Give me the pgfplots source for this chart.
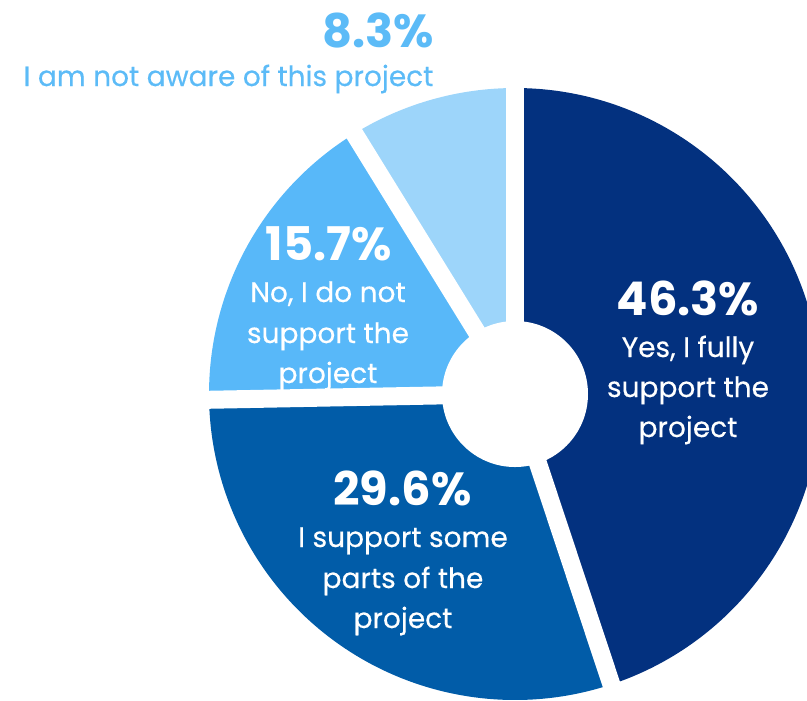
\documentclass[border=0pt]{standalone}
\usepackage{fontspec}
\setmainfont{Poppins}
\newfontfamily\labfam[FakeBold=0.35]{Poppins}
\usepackage{pgfplots}
\usepackage{pgfplotstable}
\pgfplotsset{compat=1.18}
\definecolor{cNavy}{HTML}{03317F}
\definecolor{cMed}{HTML}{015CA8}
\definecolor{cLight}{HTML}{58B8F9}
\definecolor{cPale}{HTML}{9DD5FA}
\definecolor{cText}{HTML}{5CBBF7}

% slice shares (percent of the full circle), clockwise from the top
\pgfplotstableread{
slice share
navy 44.9
medium 29.8
light 16.5
pale 8.8
}\piedata
\pgfplotstablegetelem{0}{share}\of\piedata\let\sA\pgfplotsretval
\pgfplotstablegetelem{1}{share}\of\piedata\let\sB\pgfplotsretval
\pgfplotstablegetelem{2}{share}\of\piedata\let\sC\pgfplotsretval
\pgfplotstablegetelem{3}{share}\of\piedata\let\sD\pgfplotsretval
\pgfmathsetmacro\aA{90}
\pgfmathsetmacro\aB{\aA-3.6*\sA}
\pgfmathsetmacro\aC{\aB-3.6*\sB}
\pgfmathsetmacro\aD{\aC-3.6*\sC}
\pgfmathsetmacro\aE{\aD-3.6*\sD}
\newcommand\numfont{\fontsize{13.2}{16}\selectfont\bfseries}
\newcommand\labfont{\labfam\fontsize{7.97}{11.67}\selectfont}

\begin{document}
\begin{tikzpicture}
\begin{axis}[scale only axis, width=8.07cm, height=7cm,
  xmin=0, xmax=807, ymin=0, ymax=700, hide axis, clip=true]
\fill[cNavy]  (axis cs:515,306) -- ++(\aA:3.06cm) arc[start angle=\aA, end angle=\aB, radius=3.06cm] -- cycle;
\fill[cMed]   (axis cs:515,306) -- ++(\aB:3.06cm) arc[start angle=\aB, end angle=\aC, radius=3.06cm] -- cycle;
\fill[cLight] (axis cs:515,306) -- ++(\aC:3.06cm) arc[start angle=\aC, end angle=\aD, radius=3.06cm] -- cycle;
\fill[cPale]  (axis cs:515,306) -- ++(\aD:3.06cm) arc[start angle=\aD, end angle=\aE, radius=3.06cm] -- cycle;
\draw[white, line width=0.18cm] (axis cs:515,306) -- ++(\aA:3.3cm);
\draw[white, line width=0.18cm] (axis cs:515,306) -- ++(\aB:3.3cm);
\draw[white, line width=0.18cm] (axis cs:515,306) -- ++(\aC:3.3cm);
\draw[white, line width=0.18cm] (axis cs:515,306) -- ++(\aD:3.3cm);
\fill[white] (axis cs:515,306) circle[radius=0.73cm];
% labels
\node[anchor=base, inner sep=0pt, text=cText, font=\numfont] at (axis cs:378,653) {8.3\%};
\node[anchor=base, inner sep=0pt, text=cText, font=\labfont] at (axis cs:228.5,614) {I am not aware of this project};
\node[anchor=base, inner sep=0pt, text=white, font=\numfont] at (axis cs:688,385) {46.3\%};
\node[anchor=base, inner sep=0pt, text=white, font=\labfont] at (axis cs:688,343) {Yes, I fully};
\node[anchor=base, inner sep=0pt, text=white, font=\labfont] at (axis cs:688,303) {support the};
\node[anchor=base, inner sep=0pt, text=white, font=\labfont] at (axis cs:688,263) {project};
\node[anchor=base, inner sep=0pt, text=white, font=\numfont] at (axis cs:402.5,195) {29.6\%};
\node[anchor=base, inner sep=0pt, text=white, font=\labfont] at (axis cs:403,153) {I support some};
\node[anchor=base, inner sep=0pt, text=white, font=\labfont] at (axis cs:403,112) {parts of the};
\node[anchor=base, inner sep=0pt, text=white, font=\labfont] at (axis cs:403,72) {project};
\node[anchor=base, inner sep=0pt, text=white, font=\numfont] at (axis cs:328.5,440) {15.7\%};
\node[anchor=base, inner sep=0pt, text=white, font=\labfont] at (axis cs:328,398) {No, I do not};
\node[anchor=base, inner sep=0pt, text=white, font=\labfont] at (axis cs:328,357) {support the};
\node[anchor=base, inner sep=0pt, text=white, font=\labfont] at (axis cs:328,317) {project};
\end{axis}
\pgfresetboundingbox
\path (0,0) rectangle (8.07cm,7cm);
\end{tikzpicture}
\end{document}
